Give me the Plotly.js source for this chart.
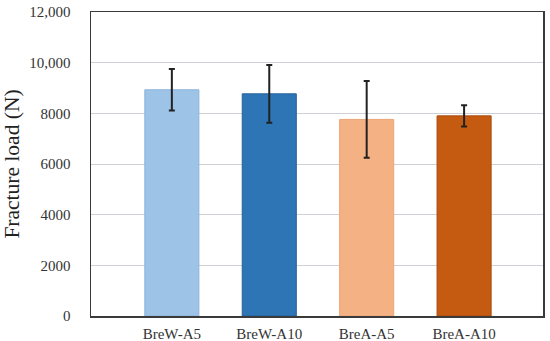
<!DOCTYPE html>
<html>
<head>
<meta charset="utf-8">
<script src="https://cdn.plot.ly/plotly-3.0.1.min.js"></script>
<style>html,body{margin:0;padding:0;background:#fff;}#chart{width:550px;height:341px;}</style>
</head>
<body>
<div id="chart"></div>
<script>
const categories = ["BreW-A5", "BreW-A10", "BreA-A5", "BreA-A10"];
const values = [8930, 8770, 7760, 7900];
const errors = [820, 1140, 1515, 415];
const barColors = ["#9DC3E6", "#2E75B6", "#F4B183", "#C55A11"];
const barLines = ["#8DB4DA", "#25609A", "#EBA575", "#A84C0E"];
const yTickVals = [0, 2000, 4000, 6000, 8000, 10000, 12000];
const yTickText = ["0", "2000", "4000", "6000", "8000", "10,000", "12,000"];

const font = "Liberation Serif, Times New Roman, serif";

const trace = {
  type: "bar",
  x: categories.map((c, i) => i),
  y: values,
  width: 0.555,
  marker: { color: barColors, line: { color: barLines, width: 1 } },
  error_y: { type: "data", array: errors, visible: true, color: "#222222", thickness: 2, width: 3 },
  hoverinfo: "none"
};

const layout = {
  width: 550, height: 341,
  margin: { l: 91, r: 7, t: 12, b: 25 },
  paper_bgcolor: "#ffffff",
  plot_bgcolor: "#ffffff",
  showlegend: false,
  bargap: 0,
  xaxis: {
    range: [-0.83, 3.81],
    tickvals: [0, 1, 2, 3],
    ticktext: categories,
    showgrid: false,
    zeroline: false,
    showline: true, mirror: true, linecolor: "#3a3a3a", linewidth: 1.5,
    ticks: "",
    ticklabelstandoff: 3,
    tickfont: { family: font, size: 15, color: "#333333" },
    fixedrange: true
  },
  yaxis: {
    range: [0, 12000],
    tickvals: yTickVals,
    ticktext: yTickText,
    showgrid: true, gridcolor: "#cfcfd6", gridwidth: 1,
    zeroline: false,
    showline: true, mirror: true, linecolor: "#3a3a3a", linewidth: 1.5,
    ticks: "",
    ticklabelstandoff: 16,
    tickfont: { family: font, size: 15, color: "#333333" },
    title: { text: "Fracture load (N)", font: { family: font, size: 21.5, color: "#222222" }, standoff: 5 },
    fixedrange: true
  }
};

Plotly.newPlot("chart", [trace], layout, { staticPlot: true, displayModeBar: false });
</script>
</body>
</html>
